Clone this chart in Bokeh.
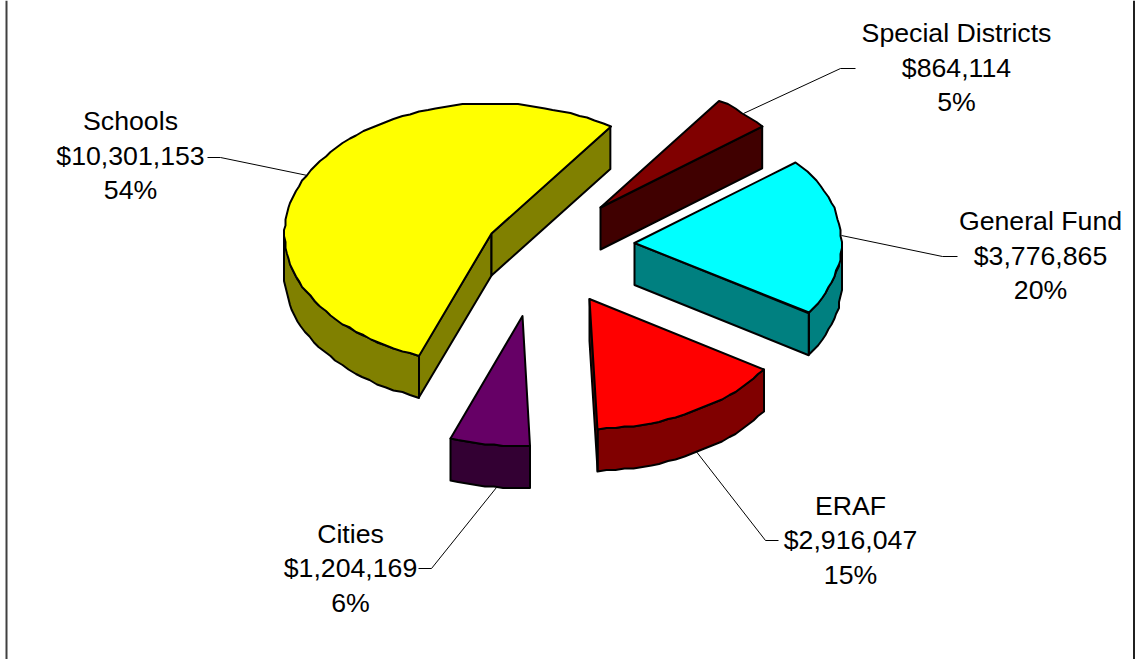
import math
from bokeh.plotting import figure
from bokeh.models import Range1d
from bokeh.core.properties import value
from bokeh.embed import file_html
from bokeh.resources import INLINE

names = ["Schools", "Special Districts", "General Fund", "ERAF", "Cities"]
amounts = [10301153, 864114, 3776865, 2916047, 1204169]
top_colors = ["#FFFF00", "#800000", "#00FFFF", "#FF0000", "#660066"]
side_colors = ["#808000", "#400000", "#008080", "#800000", "#330033"]

# layout of the exploded pie, in pixels of the picture
START_DEG = 249.5
RX, RY, DEPTH = 207, 130, 42
apex_x = [491, 600, 634, 589, 522]
apex_y = [233, 207, 242.5, 298.5, 315.5]
label_x = [130, 956, 1040, 850, 350]
label_y = [155, 67, 255, 539.5, 567.5]
leaders = [
    ([207, 220, 307], [157, 157, 175]),
    ([743, 840, 855], [113, 68, 68]),
    ([841, 942, 957], [235, 256, 256]),
    ([695, 765, 778], [450, 540, 540]),
    ([496, 431, 418], [487, 568, 568]),
]

p = figure(width=1135, height=659, output_backend="svg", toolbar_location=None,
           x_range=Range1d(0, 1135), y_range=Range1d(659, 0), min_border=0,
           background_fill_color="white", border_fill_color="white")
p.axis.visible = False
p.grid.visible = False
p.outline_line_color = None


def arc(ax, ay, lo, hi, dy=0):
    n = max(2, int(abs(hi - lo) / 2.5))
    pts = [lo + (hi - lo) * i / n for i in range(n + 1)]
    xs = [round((ax + RX * math.cos(math.radians(t))) / 1.5) * 1.5 for t in pts]
    ys = [round((ay - RY * math.sin(math.radians(t)) + dy) / 1.5) * 1.5 for t in pts]
    return xs, ys


def rim(ax, ay, t):
    return ax + RX * math.cos(math.radians(t)), ay - RY * math.sin(math.radians(t))


def face(xs, ys, color):
    p.patch(xs, ys, fill_color=color, line_color="black", line_width=2, line_join="round")


total = sum(amounts)
spans = []
cur = START_DEG
for a in amounts:
    next_angle = cur - a / total * 360
    spans.append((next_angle, cur))
    cur = next_angle

for (xs, ys) in leaders:
    p.line(xs, ys, line_color="black", line_width=1)

for i, (lo, hi) in enumerate(spans):
    ax, ay = apex_x[i], apex_y[i]
    # outer wall: only the part of the rim that faces the viewer
    if lo >= 0 or hi > 180:
        wlo, whi = max(lo, 180), hi
    else:
        wlo, whi = lo, min(hi, 0)
    if whi > wlo:
        x1, y1 = arc(ax, ay, wlo, whi)
        x2, y2 = arc(ax, ay, wlo, whi, DEPTH)
        face(x1 + x2[::-1], y1 + y2[::-1], side_colors[i])
    # radial cut faces
    for t, visible in ((hi, math.cos(math.radians(hi)) < 0), (lo, math.cos(math.radians(lo)) > 0)):
        if visible:
            rx, ry = rim(ax, ay, t)
            face([ax, rx, rx, ax], [ay, ry, ry + DEPTH, ay + DEPTH], side_colors[i])
    # top
    x1, y1 = arc(ax, ay, lo, hi)
    face([ax] + x1, [ay] + y1, top_colors[i])

for i, name in enumerate(names):
    pct = f"{amounts[i] / total * 100:.0f}%"
    money = f"${amounts[i]:,}"
    for k, line in enumerate((name, money, pct)):
        p.text([label_x[i]], [label_y[i] + (k - 1) * 34.5], text=[line], text_align="center",
               text_baseline="middle", text_color="black", text_font=value("Liberation Sans"),
               text_font_size="26.7px")

# frame
p.line([6, 6], [0, 659], line_color="#404040", line_width=2)
p.line([1133.5, 1133.5], [0, 659], line_color="#202020", line_width=2)

open("out.html", "w").write(file_html(p, INLINE))
